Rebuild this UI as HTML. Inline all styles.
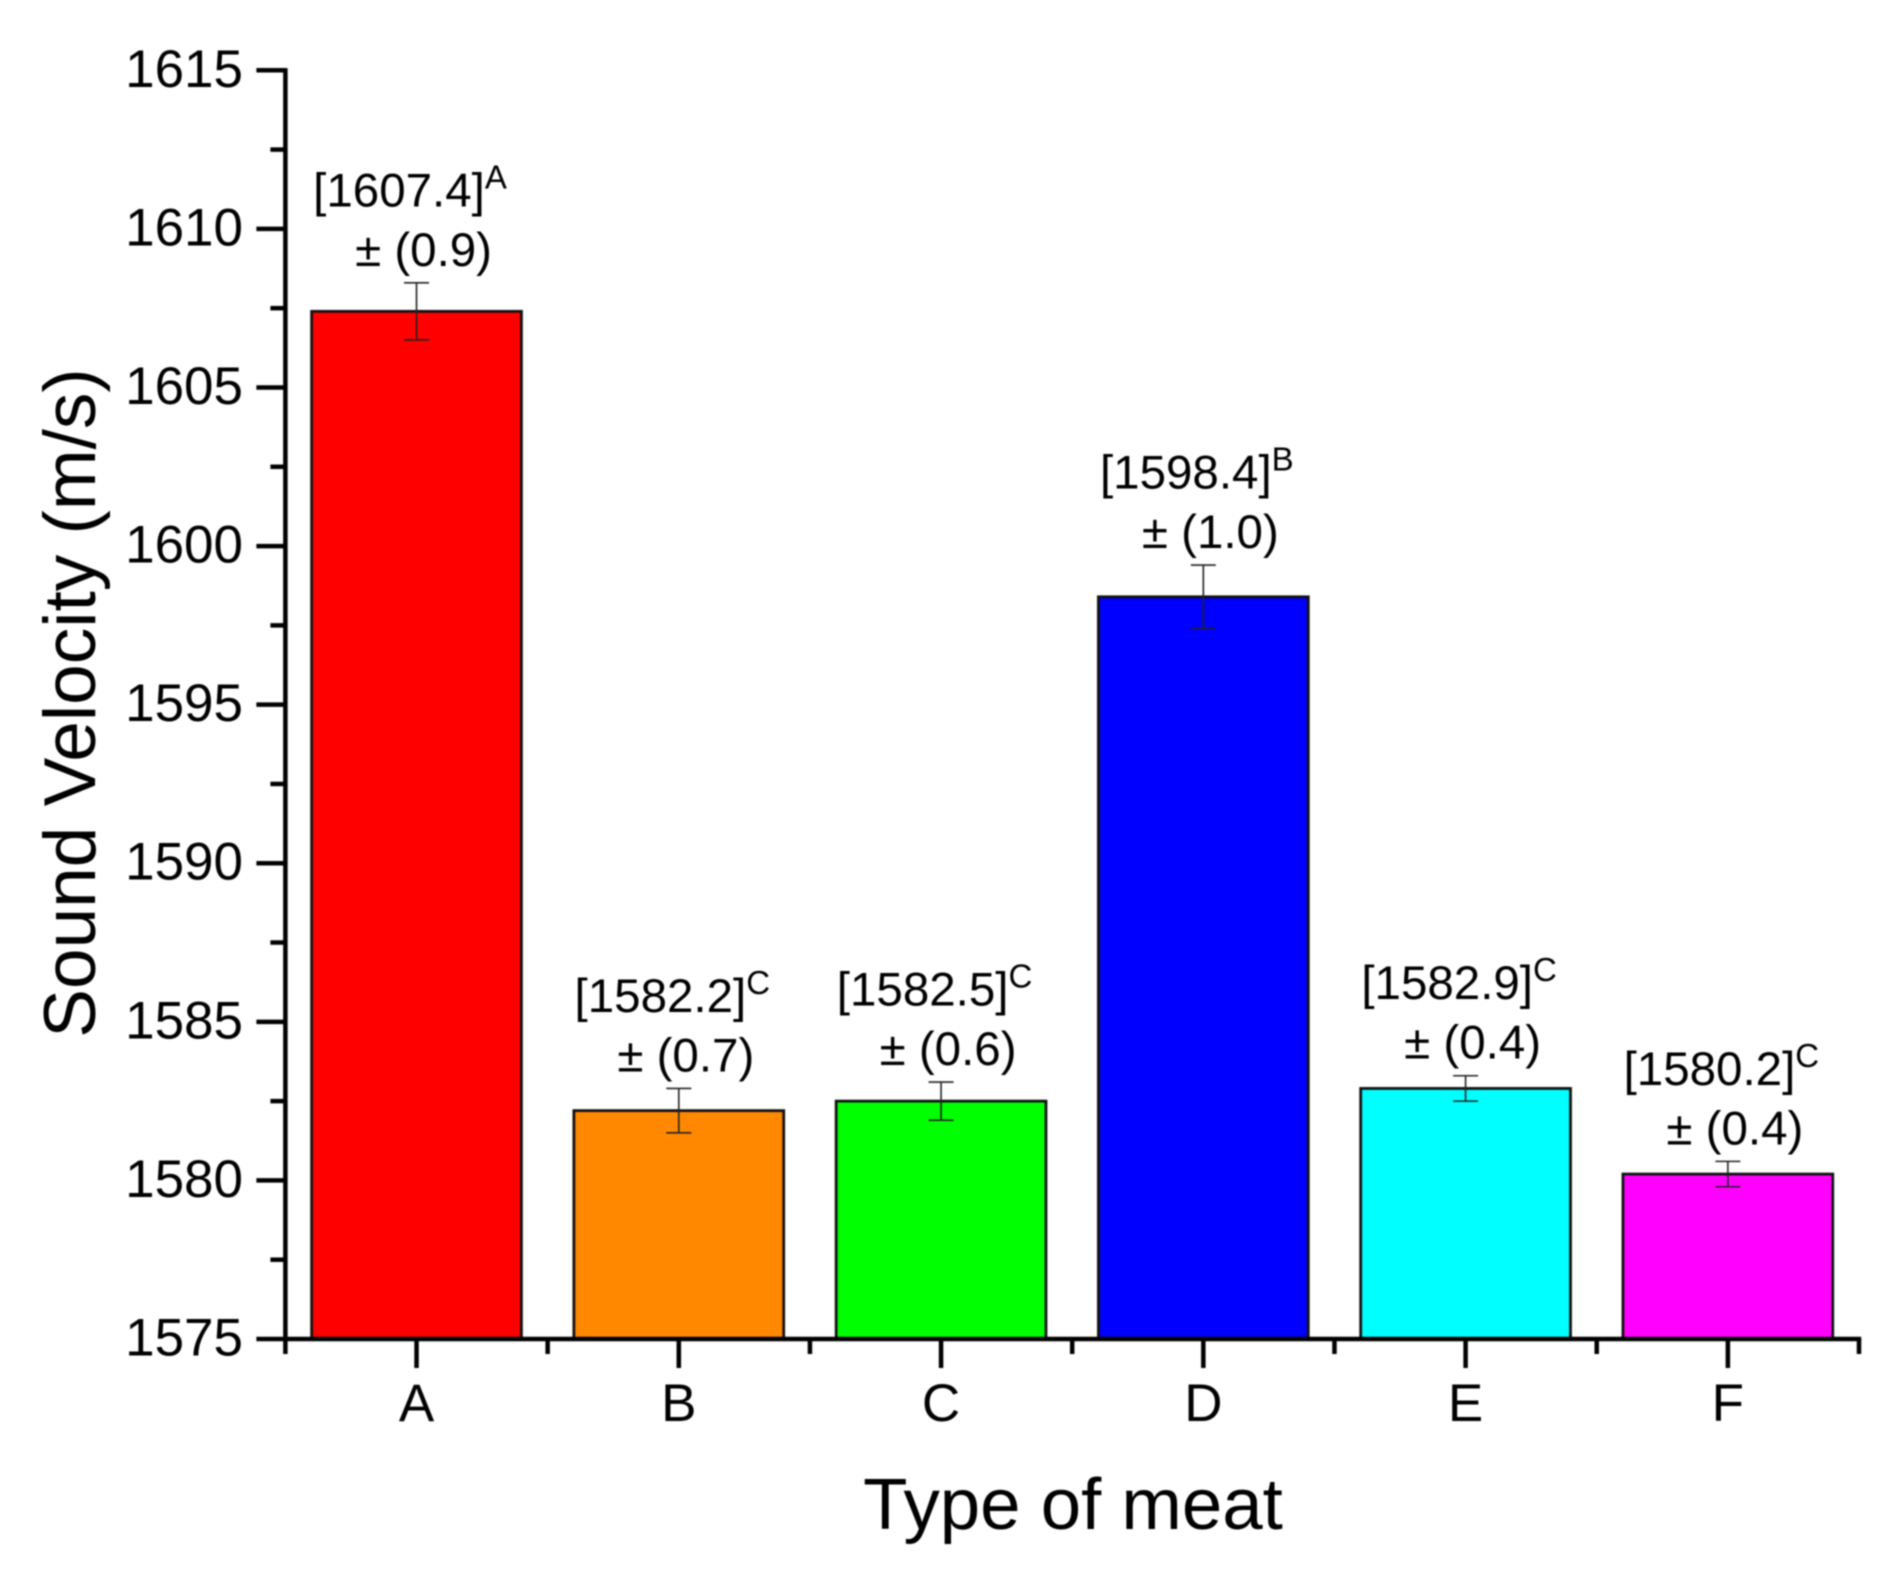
<!DOCTYPE html>
<html lang="en">
<head>
<meta charset="utf-8">
<title>Sound Velocity by Type of Meat</title>
<style>
  html, body { margin: 0; padding: 0; background: #fff; width: 1896px; height: 1581px; overflow: hidden; }
  svg { display: block; filter: blur(0.8px); }
  text { font-family: "Liberation Sans", Arial, sans-serif; fill: #000; }
</style>
</head>
<body>
<svg id="chart" width="1896" height="1581" viewBox="0 0 1896 1581" xmlns="http://www.w3.org/2000/svg">
  <g id="bars"></g>
  <g id="errors"></g>
  <g id="labels"></g>
  <g id="axes"></g>
  <text x="1073" y="1529" font-size="72.6" text-anchor="middle">Type of meat</text>
  <text transform="translate(95 703) rotate(-90)" font-size="73" text-anchor="middle">Sound Velocity (m/s)</text>
</svg>
<script>
const categories = ['A', 'B', 'C', 'D', 'E', 'F'];
const values = [1607.4, 1582.2, 1582.5, 1598.4, 1582.9, 1580.2];
const errors = [0.9, 0.7, 0.6, 1.0, 0.4, 0.4];
const errorLabels = ['0.9', '0.7', '0.6', '1.0', '0.4', '0.4'];
const groupLetters = ['A', 'C', 'C', 'B', 'C', 'C'];
const barColors = ['#ff0000', '#ff8800', '#00ff00', '#0000ff', '#00ffff', '#ff00ff'];
const yTicks = [1575, 1580, 1585, 1590, 1595, 1600, 1605, 1610, 1615];
const yMinorTicks = [1577.5, 1582.5, 1587.5, 1592.5, 1597.5, 1602.5, 1607.5, 1612.5];
const xMinorTicks = [0.5, 1.5, 2.5, 3.5, 4.5, 5.5, 6.5];

const NS = 'http://www.w3.org/2000/svg';
const plotLeft = 285.4, plotRight = 1859, plotTop = 70.3, plotBottom = 1339;
const yMin = 1575, yMax = 1615, xMin = 0.5, xMax = 6.5;
const yScale = v => plotBottom - (v - yMin) / (yMax - yMin) * (plotBottom - plotTop);
const xScale = v => plotLeft + (v - xMin) / (xMax - xMin) * (plotRight - plotLeft);
const bandWidth = xScale(2) - xScale(1);
const barWidth = bandWidth * 0.8;

function make(tag, attrs, parent) {
  const el = document.createElementNS(NS, tag);
  for (const k in attrs) el.setAttribute(k, attrs[k]);
  parent.appendChild(el);
  return el;
}

const barsG = document.getElementById('bars');
const errorsG = document.getElementById('errors');
const labelsG = document.getElementById('labels');
const axesG = document.getElementById('axes');

categories.forEach((cat, i) => {
  const cx = xScale(i + 1);
  const top = yScale(values[i]);
  const rect = make('rect', { x: cx - barWidth / 2, y: top, width: barWidth, height: plotBottom - top, fill: barColors[i], stroke: '#111', 'stroke-width': 2.8 }, barsG);
  
  

  const eTop = yScale(values[i] + errors[i]);
  const eBot = yScale(values[i] - errors[i]);
  const err = make('path', { d: 'M' + (cx - 12.5) + ' ' + eTop + 'H' + (cx + 12.5) + 'M' + cx + ' ' + eTop + 'V' + eBot + 'M' + (cx - 12.5) + ' ' + eBot + 'H' + (cx + 12.5), fill: 'none', stroke: '#222', 'stroke-width': 1.6 }, errorsG);
  
  

  const l1 = make('text', { x: cx - 6.5, y: eTop - 76.5, 'font-size': 47.5, 'text-anchor': 'middle' }, labelsG);
  
  
  l1.appendChild(document.createTextNode('[' + values[i].toFixed(1) + ']'));
  const sup = make('tspan', { 'font-size': 33, dy: -18 }, l1);
  sup.textContent = groupLetters[i];

  const l2 = make('text', { x: cx + 7, y: eTop - 17, 'font-size': 47.5, 'text-anchor': 'middle' }, labelsG);
  
  
  l2.textContent = '\u00b1 (' + errorLabels[i] + ')';

  const tick = make('line', { x1: cx, x2: cx, y1: plotBottom, y2: plotBottom + 29, stroke: '#000', 'stroke-width': 4.5 }, axesG);
  
  

  const lab = make('text', { x: cx, y: 1421, 'font-size': 53, 'text-anchor': 'middle' }, axesG);
  
  
  lab.textContent = cat;
});

xMinorTicks.forEach(v => {
  const t = make('line', { x1: xScale(v), x2: xScale(v), y1: plotBottom, y2: plotBottom + 15, stroke: '#000', 'stroke-width': 4.5 }, axesG);
  
  
});

yTicks.forEach(v => {
  const y = yScale(v);
  const t = make('line', { x1: plotLeft - 29, x2: plotLeft, y1: y, y2: y, stroke: '#000', 'stroke-width': 4.5 }, axesG);
  
  
  const lab = make('text', { x: 243, y: y + 16.5, 'font-size': 53, 'text-anchor': 'end' }, axesG);
  
  
  lab.textContent = v;
});

yMinorTicks.forEach(v => {
  const y = yScale(v);
  const t = make('line', { x1: plotLeft - 15, x2: plotLeft, y1: y, y2: y, stroke: '#000', 'stroke-width': 4.5 }, axesG);
  
  
});

const yAxis = make('line', { x1: plotLeft, x2: plotLeft, y1: plotTop - 2.2, y2: plotBottom + 2.2, stroke: '#000', 'stroke-width': 4.5 }, axesG);


const xAxis = make('line', { x1: plotLeft - 2.2, x2: plotRight + 2.2, y1: plotBottom, y2: plotBottom, stroke: '#000', 'stroke-width': 4.5 }, axesG);


</script>
</body>
</html>
